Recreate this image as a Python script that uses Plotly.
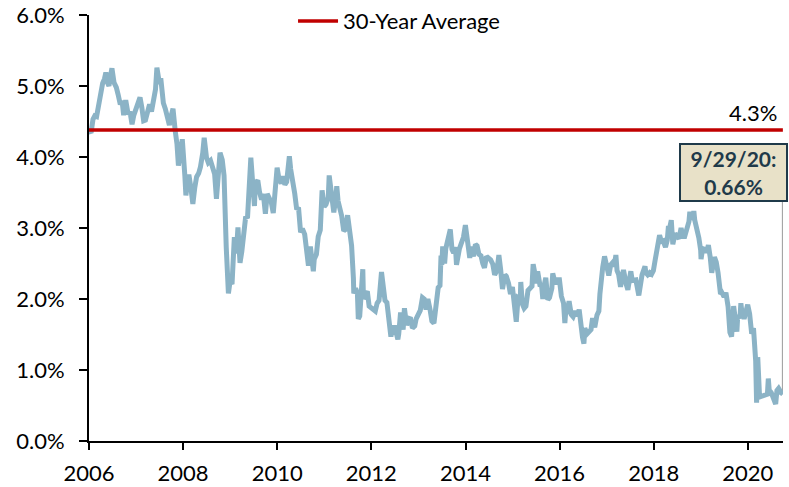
import plotly.graph_objects as go

dates = [
"2006-01-03","2006-01-17","2006-02-01","2006-02-15","2006-03-01","2006-03-15","2006-04-03","2006-04-17",
"2006-05-01","2006-05-12","2006-05-24","2006-06-05","2006-06-15","2006-06-28","2006-07-14","2006-08-01",
"2006-08-15","2006-09-01","2006-09-15","2006-09-27","2006-10-13","2006-11-01","2006-11-15","2006-12-01",
"2006-12-15","2007-01-02","2007-01-18","2007-02-01","2007-02-15","2007-03-01","2007-03-15","2007-04-02",
"2007-04-16","2007-05-01","2007-05-15","2007-06-01","2007-06-12","2007-06-18","2007-07-02","2007-07-12",
"2007-08-01","2007-08-16","2007-09-04","2007-09-17","2007-10-01","2007-10-15","2007-11-01","2007-11-15",
"2007-11-26","2007-12-12","2007-12-26","2008-01-15","2008-01-23","2008-02-01","2008-02-15","2008-03-03",
"2008-03-17","2008-04-01","2008-04-15","2008-05-01","2008-05-15","2008-06-02","2008-06-13","2008-07-01",
"2008-07-15","2008-08-01","2008-08-15","2008-09-02","2008-09-16","2008-10-01","2008-10-14","2008-10-31",
"2008-11-14","2008-12-01","2008-12-18","2008-12-31","2009-01-15","2009-02-02","2009-02-17","2009-03-02",
"2009-03-18","2009-04-01","2009-04-15","2009-05-01","2009-05-15","2009-06-01","2009-06-10","2009-06-22",
"2009-07-08","2009-07-15","2009-08-03","2009-08-17","2009-09-01","2009-09-15","2009-10-01","2009-10-15",
"2009-11-02","2009-11-16","2009-12-01","2009-12-15","2009-12-31","2010-01-15","2010-02-01","2010-02-16",
"2010-03-01","2010-03-15","2010-04-05","2010-04-15","2010-05-03","2010-05-17","2010-06-01","2010-06-15",
"2010-07-01","2010-07-15","2010-08-02","2010-08-16","2010-08-31","2010-09-15","2010-10-08","2010-10-15",
"2010-11-01","2010-11-15","2010-12-01","2010-12-15","2010-12-31","2011-01-14","2011-02-01","2011-02-08",
"2011-02-15","2011-03-01","2011-03-16","2011-04-01","2011-04-08","2011-04-18","2011-05-02","2011-05-16",
"2011-06-01","2011-06-15","2011-07-01","2011-07-15","2011-08-01","2011-08-15","2011-08-18","2011-09-01",
"2011-09-15","2011-09-22","2011-10-03","2011-10-27","2011-11-01","2011-11-15","2011-12-01","2011-12-15",
"2011-12-30","2012-01-13","2012-02-01","2012-02-15","2012-03-01","2012-03-20","2012-04-02","2012-04-16",
"2012-05-01","2012-05-15","2012-06-01","2012-06-15","2012-07-02","2012-07-25","2012-08-01","2012-08-15",
"2012-09-04","2012-09-14","2012-10-01","2012-10-15","2012-11-01","2012-11-15","2012-12-03","2012-12-14",
"2012-12-31","2013-01-15","2013-02-01","2013-02-15","2013-03-01","2013-03-15","2013-04-01","2013-04-15",
"2013-05-01","2013-05-15","2013-06-03","2013-06-17","2013-06-25","2013-07-01","2013-07-08","2013-07-23",
"2013-08-01","2013-08-15","2013-09-05","2013-09-18","2013-10-01","2013-10-15","2013-10-23","2013-11-15",
"2013-12-02","2013-12-16","2013-12-31","2014-01-15","2014-02-03","2014-02-14","2014-03-03","2014-03-19",
"2014-04-01","2014-04-15","2014-05-01","2014-05-15","2014-05-28","2014-06-13","2014-07-01","2014-07-15",
"2014-08-01","2014-08-15","2014-09-02","2014-09-17","2014-10-01","2014-10-15","2014-11-03","2014-11-14",
"2014-12-01","2014-12-16","2014-12-31","2015-01-15","2015-01-30","2015-02-13","2015-03-02","2015-03-06",
"2015-03-18","2015-04-01","2015-04-15","2015-05-01","2015-05-15","2015-06-01","2015-06-10","2015-06-29",
"2015-07-08","2015-07-15","2015-08-03","2015-08-14","2015-08-24","2015-09-01","2015-09-16","2015-10-02",
"2015-10-15","2015-11-02","2015-11-09","2015-11-30","2015-12-15","2015-12-31","2016-01-15","2016-02-01",
"2016-02-11","2016-02-16","2016-03-01","2016-03-15","2016-04-01","2016-04-15","2016-05-02","2016-05-16",
"2016-06-01","2016-06-15","2016-06-27","2016-07-08","2016-07-15","2016-08-01","2016-08-15","2016-09-01",
"2016-09-13","2016-09-30","2016-10-17","2016-11-01","2016-11-09","2016-11-15","2016-12-01","2016-12-15",
"2016-12-30","2017-01-17","2017-02-01","2017-02-15","2017-03-01","2017-03-13","2017-03-22","2017-04-03",
"2017-04-18","2017-05-01","2017-05-11","2017-06-01","2017-06-14","2017-07-03","2017-07-07","2017-07-18",
"2017-08-01","2017-08-15","2017-09-07","2017-09-15","2017-10-02","2017-10-25","2017-11-01","2017-11-15",
"2017-12-01","2017-12-15","2017-12-29","2018-01-12","2018-02-01","2018-02-15","2018-03-01","2018-03-15",
"2018-04-02","2018-04-16","2018-04-25","2018-05-01","2018-05-17","2018-05-29","2018-06-15","2018-07-02",
"2018-07-16","2018-08-01","2018-08-15","2018-08-29","2018-09-17","2018-10-01","2018-10-08","2018-10-15",
"2018-11-01","2018-11-08","2018-11-15","2018-12-03","2018-12-17","2018-12-31","2019-01-03","2019-01-15",
"2019-02-01","2019-02-15","2019-03-01","2019-03-15","2019-03-27","2019-04-17","2019-05-01","2019-05-15",
"2019-06-03","2019-06-14","2019-07-01","2019-07-15","2019-08-01","2019-08-15","2019-08-28","2019-09-13",
"2019-10-01","2019-10-08","2019-10-15","2019-11-01","2019-11-08","2019-11-15","2019-12-03","2019-12-16",
"2019-12-31","2020-01-15","2020-01-31","2020-02-14","2020-03-02","2020-03-09","2020-03-18","2020-04-01",
"2020-04-15","2020-05-01","2020-05-15","2020-06-01","2020-06-08","2020-06-15","2020-07-01","2020-07-15",
"2020-08-04","2020-08-14","2020-08-27","2020-09-15","2020-09-29",
]

yields = [
4.37,4.34,4.53,4.58,4.57,4.73,4.85,5.04,
5.10,5.19,5.05,5.00,5.12,5.25,5.05,4.98,
4.88,4.74,4.79,4.59,4.80,4.60,4.64,4.46,
4.59,4.68,4.78,4.84,4.70,4.51,4.52,4.65,
4.74,4.64,4.75,4.95,5.26,5.16,5.03,5.11,
4.76,4.68,4.53,4.45,4.58,4.68,4.37,4.18,
3.88,4.15,4.25,3.73,3.46,3.59,3.75,3.55,
3.34,3.57,3.72,3.77,3.86,4.06,4.27,3.99,
3.92,3.95,3.84,3.76,3.41,3.70,4.06,3.96,
3.74,2.73,2.08,2.25,2.21,2.87,2.64,3.01,
2.51,2.67,2.85,3.16,3.14,3.70,3.99,3.69,
3.31,3.63,3.67,3.50,3.40,3.48,3.20,3.48,
3.40,3.36,3.21,3.56,3.85,3.68,3.63,3.73,
3.61,3.65,4.01,3.83,3.66,3.48,3.26,3.29,
2.94,2.99,2.91,2.63,2.47,2.74,2.39,2.56,
2.63,2.88,2.97,3.53,3.30,3.33,3.43,3.74,
3.62,3.43,3.22,3.44,3.59,3.38,3.29,3.17,
2.96,2.98,3.18,2.91,2.75,2.29,2.08,2.15,
2.08,1.72,1.76,2.42,2.00,2.06,2.11,1.90,
1.88,1.87,1.83,1.94,1.98,2.38,2.18,1.98,
1.95,1.76,1.47,1.60,1.60,1.43,1.51,1.81,
1.57,1.87,1.63,1.73,1.72,1.59,1.62,1.72,
1.78,1.84,2.02,2.00,1.85,2.00,1.85,1.69,
1.66,1.94,2.16,2.19,2.61,2.48,2.74,2.50,
2.71,2.83,2.98,2.70,2.65,2.73,2.48,2.71,
2.80,2.87,3.04,2.84,2.58,2.74,2.60,2.77,
2.75,2.63,2.61,2.50,2.44,2.60,2.58,2.55,
2.49,2.34,2.40,2.62,2.41,2.14,2.34,2.32,
2.22,2.07,2.17,1.83,1.68,2.02,2.00,2.24,
1.93,1.87,1.90,2.12,2.14,2.18,2.49,2.33,
2.22,2.39,2.18,2.20,2.00,2.17,2.30,1.99,
2.02,2.15,2.36,2.21,2.27,2.27,2.04,1.94,
1.66,1.78,1.83,1.97,1.78,1.75,1.83,1.76,
1.85,1.57,1.46,1.37,1.59,1.51,1.55,1.57,
1.73,1.60,1.77,1.83,2.07,2.22,2.45,2.60,
2.45,2.33,2.48,2.51,2.46,2.62,2.40,2.35,
2.17,2.29,2.41,2.21,2.13,2.35,2.39,2.26,
2.26,2.27,2.05,2.20,2.34,2.46,2.37,2.34,
2.37,2.35,2.40,2.55,2.78,2.90,2.81,2.82,
2.73,2.83,3.03,2.97,3.11,2.77,2.92,2.87,
2.85,3.00,2.88,2.88,2.99,3.09,3.23,3.16,
3.14,3.24,3.11,2.98,2.86,2.69,2.56,2.71,
2.70,2.66,2.76,2.59,2.37,2.59,2.52,2.37,
2.07,2.09,2.03,2.09,1.89,1.53,1.47,1.90,
1.65,1.54,1.77,1.73,1.94,1.83,1.72,1.82,
1.92,1.79,1.51,1.59,1.13,0.54,1.18,0.62,
0.63,0.64,0.64,0.66,0.88,0.72,0.68,0.62,
0.52,0.71,0.74,0.68,0.66,
]

avg_label = "30-Year Average"
avg_value = 4.38
avg_text = "4.3%"
callout_text = "9/29/20:<br>0.66%"
x_start = "2006-01-01"
x_end = "2020-09-30"
callout_level = 3.37

FONT = "Lato"
FS = 22
LINE_COLOR = "#8BB3C6"
RED = "#C00000"

fig = go.Figure()

fig.add_trace(go.Scatter(
    x=dates, y=yields, mode="lines",
    line=dict(color=LINE_COLOR, width=5),
    showlegend=False, hoverinfo="x+y",
))

fig.add_trace(go.Scatter(
    x=[x_start, dates[-1]], y=[avg_value, avg_value], mode="lines",
    line=dict(color=RED, width=3.5),
    name=avg_label, showlegend=True,
))

# connector from last point up to callout box
fig.add_shape(type="line", x0=dates[-1], x1=dates[-1], y0=yields[-1], y1=callout_level,
              xref="x", yref="y", line=dict(color="#A6A6A6", width=2), layer="below")

fig.add_annotation(
    x=dates[-1], y=avg_value, xref="x", yref="y",
    text=avg_text, showarrow=False, xanchor="right", yanchor="bottom",
    yshift=2, xshift=-4,
    font=dict(family=FONT, size=FS, color="#000000"),
)

fig.add_annotation(
    x=1, y=callout_level, xref="paper", yref="y",
    text="<b>" + callout_text + "</b>", showarrow=False,
    xanchor="right", yanchor="bottom", xshift=5, align="center",
    width=103, height=53,
    font=dict(family=FONT, size=21, color="#1F3A4A"),
    bgcolor="#E8E1C8", bordercolor="#1F3A4A", borderwidth=2, borderpad=1,
)

fig.update_layout(
    width=789, height=487,
    margin=dict(l=89, r=6, t=15, b=46, autoexpand=False),
    paper_bgcolor="white", plot_bgcolor="white",
    font=dict(family=FONT, size=FS, color="#000000"),
    legend=dict(x=0.294, y=1.035, xanchor="left", yanchor="top",
                bgcolor="rgba(0,0,0,0)", font=dict(family=FONT, size=FS),
                itemwidth=40),
    xaxis=dict(
        type="date", range=[x_start, x_end], automargin=False,
        tick0="2006-01-01", dtick="M24", tickformat="%Y",
        showgrid=False, zeroline=False,
        showline=True, linecolor="#000000", linewidth=2,
        ticks="outside", ticklen=7, tickwidth=2, tickcolor="#000000",
        ticklabelstandoff=5,
        tickfont=dict(family=FONT, size=FS),
    ),
    yaxis=dict(
        range=[0, 6], dtick=1, tickformat=".1f", ticksuffix="%", automargin=False,
        showgrid=False, zeroline=False,
        showline=True, linecolor="#000000", linewidth=2,
        ticks="outside", ticklen=8, tickwidth=2, tickcolor="#000000",
        ticklabelstandoff=10,
        tickfont=dict(family=FONT, size=FS),
    ),
)

fig.write_html("out.html", config={"displayModeBar": False},
               post_script="document.body.style.margin='0px';")
